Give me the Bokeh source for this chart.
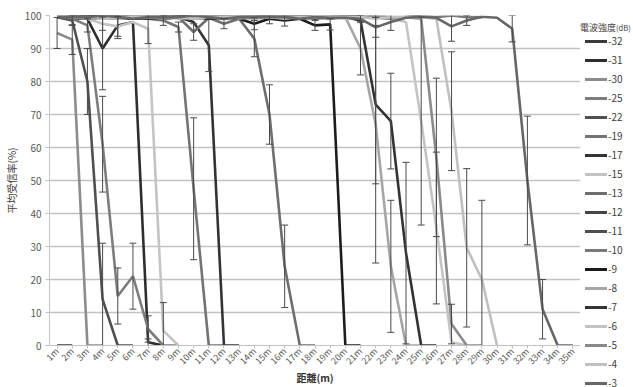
import numpy as np
from math import pi
from bokeh.plotting import figure
from bokeh.layouts import row
from bokeh.models import (ColumnDataSource, Range1d, FactorRange, FixedTicker, Div)
from bokeh.embed import file_html
from bokeh.resources import INLINE

FONT = "Noto Sans CJK JP"

cats = ["1m", "2m", "3m", "4m", "5m", "6m", "7m", "8m", "9m", "10m",
        "11m", "12m", "13m", "14m", "15m", "16m", "17m", "18m", "19m", "20m",
        "21m", "22m", "23m", "24m", "25m", "26m", "27m", "28m", "29m", "30m",
        "31m", "32m", "33m", "34m", "35m"]
y_ticks = [0, 10, 20, 30, 40, 50, 60, 70, 80, 90, 100]

# mean reception rate (%) per distance, starting at 1m; error = std-dev
v_m32 = [0, 0]
e_m32 = [0, 0]

v_m31 = [99.5, 99, 99, 90, 97, 98, 1, 0]
e_m31 = [0, 0, 0, 12.5, 4, 0, 1, 0]

v_m30 = [94.7, 92.7, 0, 0]
e_m30 = [4.7, 4.5, 0, 0]

v_m25 = [99.5, 99, 97, 61, 15, 21, 5, 0, 0]
e_m25 = [0, 0, 2, 14.5, 8.5, 10, 4, 0, 0]

v_m22 = [99.5, 98.5, 80, 14, 0, 0]
e_m22 = [0, 1.5, 10, 17, 0, 0]

v_m19 = [100, 99.5, 99, 99.5, 99, 99.5, 99, 98.5, 96.5, 47.5, 0, 0]
e_m19 = [0, 0, 0, 0, 0, 0, 0, 1.5, 1.5, 21.5, 0, 0]

v_m17 = [99.5, 99.5, 99, 99.5, 99.5, 99, 99.5, 99, 99.5, 98, 91, 0, 0]
e_m17 = [0, 0, 0, 0, 0, 0, 0, 0, 0, 0, 8, 0, 0]

v_m15 = [100, 99.5, 99, 97.5, 96.7, 98, 96, 4.5, 0]
e_m15 = [0, 0, 0, 2, 3, 0, 4.5, 8.5, 0]

v_m13 = [99.5, 99, 99.5, 99, 99.5, 99, 99.5, 99, 99.5, 95, 99.3, 97.5, 99, 93, 70, 24, 0, 0]
e_m13 = [0, 0, 0, 0, 0, 0, 0, 0, 0, 2.5, 0, 1.5, 0, 5.5, 9, 12.5, 0, 0]

v_m12 = [100, 99.5, 100, 99.5, 99, 99.5, 100, 99.5, 99.5, 99, 99.5, 99.5, 100, 99.5,
         99.5, 100, 99.5, 99, 99.5, 99.5, 100]
e_m12 = [0, 0, 0, 0, 0, 0, 0, 0, 0, 0, 0, 0, 0, 0, 0, 0, 0, 0, 0, 0, 0]

v_m11 = [99.5, 100, 99.5, 99.5, 100, 99.5, 99, 99.5, 100, 99.5, 99.5, 100, 99.5, 99.5,
         99, 99.5, 100, 99.5, 99.5, 100, 99.5, 99.5, 99, 99.5, 100]
e_m11 = [0, 0, 0, 0, 0, 0, 0, 0, 0, 0, 0, 0, 0, 0, 0, 0, 0, 0, 0, 0, 0, 0, 0, 0, 0]

v_m10 = [100, 99.5, 99.5, 100, 99.5, 100, 99.5, 99.5, 100, 99.5, 100, 99.5, 99.5, 100,
         99.5, 99.5, 100, 99.5, 100, 99.5, 99.5, 100, 99.5, 99.5, 100, 99.5, 100, 99.5, 99.5]
e_m10 = [0, 0, 0, 0, 0, 0, 0, 0, 0, 0, 0, 0, 0, 0, 0, 0, 0, 0, 0, 0, 0, 0, 0, 0, 0, 0,
         0, 0, 0]

v_m9 = [99.5, 99.5, 100, 99.5, 99.5, 99, 99.5, 100, 99.5, 99.5, 99, 99.5, 99, 97.5,
        99, 98.5, 99, 97, 97.3, 0, 0]
e_m9 = [0, 0, 0, 0, 0, 0, 0, 0, 0, 0, 0, 0, 0, 1.8, 1.5, 1.7, 0, 1.5, 1.7, 0, 0]

v_m8 = [99.5, 100, 99.5, 99.5, 99, 99.5, 100, 99.5, 99.5, 99, 99.5, 100, 99.5, 99,
        99.5, 99.5, 100, 99.5, 99, 99.5, 90, 67, 24, 0, 0]
e_m8 = [0, 0, 0, 0, 0, 0, 0, 0, 0, 0, 0, 0, 0, 0, 0, 0, 0, 0, 0, 0, 8, 42, 20, 0, 0]

v_m7 = [99.5, 99.5, 100, 99.5, 99.5, 99.5, 99, 99.5, 100, 99.5, 99.5, 99, 99.5, 99.5,
        100, 99.5, 99, 99.5, 99.5, 99.5, 98.5, 73, 68, 28, 0, 0]
e_m7 = [0, 0, 0, 0, 0, 0, 0, 0, 0, 0, 0, 0, 0, 0, 0, 0, 0, 0, 0, 0, 0, 24, 14.5, 27.5, 0, 0]

v_m6 = [100, 99.5, 99.5, 99, 99.5, 100, 99.5, 99.5, 99, 99.5, 100, 99.5, 99.5, 99,
        99.5, 100, 99.5, 99.5, 99.5, 99, 99.5, 99.5, 99, 98, 68, 35.6, 1, 0]
e_m6 = [0, 0, 0, 0, 0, 0, 0, 0, 0, 0, 0, 0, 0, 0, 0, 0, 0, 0, 0, 0, 0, 0, 0, 0,
        31.5, 23, 0, 0]

v_m5 = [99.5, 99.5, 99, 99.5, 100, 99.5, 99.5, 99, 99.5, 99.5, 100, 99.5, 99, 99.5,
        99.5, 99.5, 100, 99.5, 99, 99.5, 99.5, 99.5, 99, 99.5, 99, 57, 6.5, 0, 0]
e_m5 = [0, 0, 0, 0, 0, 0, 0, 0, 0, 0, 0, 0, 0, 0, 0, 0, 0, 0, 0, 0, 0, 0, 0, 0,
        0, 24, 6, 0, 0]

v_m4 = [100, 99.5, 99.5, 99.5, 99, 99.5, 99.5, 100, 99.5, 99, 99.5, 99.5, 100, 99.5,
        99.5, 99, 99.5, 99.5, 100, 99.5, 99.5, 99, 99.5, 99.5, 99.5, 99, 71, 29.6, 20, 0]
e_m4 = [0, 0, 0, 0, 0, 0, 0, 0, 0, 0, 0, 0, 0, 0, 0, 0, 0, 0, 0, 0, 0, 0, 0, 0,
        0, 0, 18, 24, 24, 0]

v_m3 = [99.5, 99.5, 99.5, 100, 99.5, 99, 99.5, 99.5, 99.5, 100, 99.5, 99, 99.5, 99.5,
        99.5, 99.5, 99, 99.5, 99.3, 99.3, 99, 96.4, 98, 99.3, 99.6, 99.3, 96.7, 98.5,
        99.6, 99.3, 96, 50, 11, 0, 0]
e_m3 = [0, 0, 0, 0, 0, 0, 0, 0, 0, 0, 0, 0, 0, 0, 0, 0, 0, 0, 0, 0, 1, 3, 2.5, 0,
        0, 0, 4.5, 1.5, 0, 0, 4, 19.5, 9, 0, 0]

names = ["-32", "-31", "-30", "-25", "-22", "-19", "-17", "-15", "-13", "-12",
         "-11", "-10", "-9", "-8", "-7", "-6", "-5", "-4", "-3"]
values = [v_m32, v_m31, v_m30, v_m25, v_m22, v_m19, v_m17, v_m15, v_m13, v_m12,
          v_m11, v_m10, v_m9, v_m8, v_m7, v_m6, v_m5, v_m4, v_m3]
errors = [e_m32, e_m31, e_m30, e_m25, e_m22, e_m19, e_m17, e_m15, e_m13, e_m12,
          e_m11, e_m10, e_m9, e_m8, e_m7, e_m6, e_m5, e_m4, e_m3]
colors = ["#3a3a3a", "#2e2e2e", "#8c8c8c", "#7d7d7d", "#505050", "#747474", "#333333",
          "#c4c4c4", "#6e6e6e", "#454545", "#4f4f4f", "#7a7a7a", "#1c1c1c", "#a6a6a6",
          "#333333", "#c4c4c4", "#8a8a8a", "#c0c0c0", "#676767"]


def pad(vals):
    return [float(v) for v in vals] + [np.nan] * (len(cats) - len(vals))


p = figure(width=580, height=387, x_range=FactorRange(factors=cats),
           y_range=Range1d(0, 100), output_backend="svg", toolbar_location=None,
           min_border_left=44, min_border_right=0, min_border_top=15,
           min_border_bottom=36)
p.outline_line_color = None
p.xgrid.grid_line_color = None
p.ygrid.grid_line_color = "#c3c3c3"
p.ygrid.grid_line_width = 1.3
p.yaxis.ticker = FixedTicker(ticks=y_ticks)
p.yaxis.axis_line_color = "#c3c3c3"
p.yaxis.major_tick_line_color = "#c3c3c3"
p.yaxis.major_tick_out = 4
p.yaxis.major_tick_in = 0
p.yaxis.minor_tick_line_color = None
p.yaxis.major_label_text_font = FONT
p.yaxis.major_label_text_font_size = "10px"
p.yaxis.major_label_text_color = "#595959"
p.yaxis.major_label_standoff = 4
p.yaxis.axis_label = "平均受信率(%)"
p.yaxis.axis_label_text_font = FONT
p.yaxis.axis_label_text_font_size = "10px"
p.yaxis.axis_label_text_font_style = "normal"
p.yaxis.axis_label_text_color = "#404040"
p.yaxis.axis_label_standoff = 3
p.xaxis.axis_line_color = "#c3c3c3"
p.xaxis.major_tick_line_color = "#c3c3c3"
p.xaxis.major_tick_out = 3
p.xaxis.major_tick_in = 0
p.xaxis.major_label_orientation = pi / 4
p.xaxis.major_label_text_font = FONT
p.xaxis.major_label_text_font_size = "9px"
p.xaxis.major_label_text_color = "#595959"
p.xaxis.major_label_standoff = 1
p.xaxis.axis_label = "距離(m)"
p.xaxis.axis_label_text_font = FONT
p.xaxis.axis_label_text_font_size = "10px"
p.xaxis.axis_label_text_font_style = "bold"
p.xaxis.axis_label_text_color = "#333333"
p.xaxis.axis_label_standoff = -5

for name, v, c in zip(names, values, colors):
    src = ColumnDataSource(dict(x=cats, y=pad(v)))
    p.line("x", "y", source=src, line_color=c, line_width=2.6)

bx, blo, bhi = [], [], []
for v, e in zip(values, errors):
    for i in range(len(v)):
        if e[i] > 0:
            bx.append(cats[i])
            blo.append(v[i] - e[i])
            bhi.append(v[i] + e[i])
p.segment(x0=bx, y0=blo, x1=bx, y1=bhi, line_color="#4a4a4a", line_width=1)
p.scatter(x=bx + bx, y=blo + bhi, marker="dash", size=7, line_color="#4a4a4a",
          line_width=1)

# legend drawn as an HTML block to the right of the plot
parts = ['<div style="position:relative;width:53px;height:387px;overflow:hidden;'
         'font-family:\'Noto Sans CJK JP\';color:#404040;">',
         '<div style="position:absolute;left:0px;top:21px;white-space:nowrap;'
         'font-size:9px;line-height:14px;">電波強度<span style="font-size:7.5px;">'
         '(dB)</span></div>']
for i, (name, c) in enumerate(zip(names, colors)):
    top = 33 + 19 * i
    parts.append(
        f'<div style="position:absolute;left:5px;top:{top}px;height:16px;'
        f'display:flex;align-items:center;white-space:nowrap;">'
        f'<span style="display:inline-block;width:22px;height:3px;'
        f'background:{c};margin-right:1px;"></span>'
        f'<span style="font-size:10px;line-height:16px;">{name}</span></div>')
parts.append('</div>')
leg = Div(text="".join(parts), width=53, height=387, margin=(0, 0, 0, 0))

layout = row(p, leg)
open("out.html", "w").write(file_html(layout, INLINE))
